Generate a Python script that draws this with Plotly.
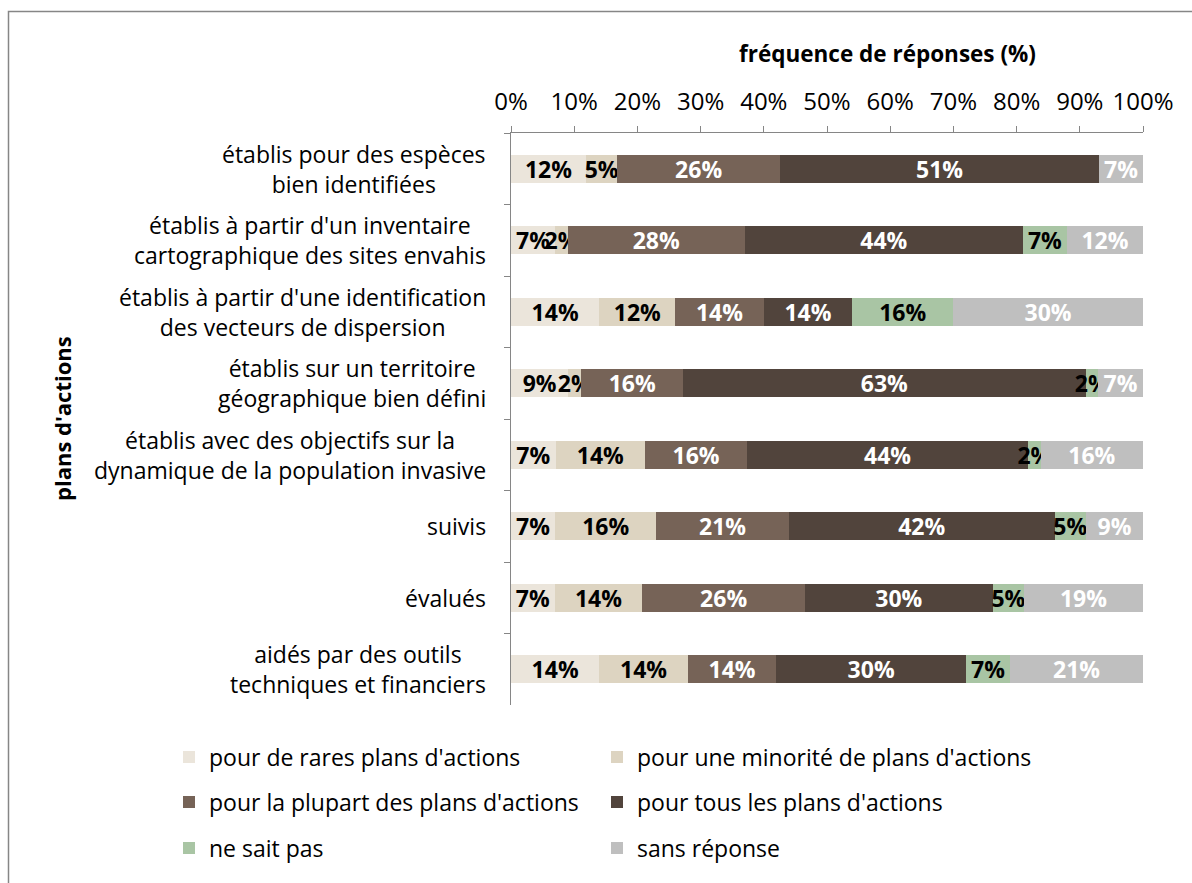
import plotly.graph_objects as go

# Survey questions (y categories), top to bottom
categories = [
    "établis pour des espèces<br>bien identifiées",
    "établis à partir d'un inventaire<br>cartographique des sites envahis",
    "établis à partir d'une identification<br>des vecteurs de dispersion",
    "établis sur un territoire<br>géographique bien défini",
    "établis avec des objectifs sur la<br>dynamique de la population invasive",
    "suivis",
    "évalués",
    "aidés par des outils<br>techniques et financiers",
]

# Response shares (%) per answer option, same order as categories
rares = [12, 7, 14, 9, 7, 7, 7, 14]
minorite = [5, 2, 12, 2, 14, 16, 14, 14]
plupart = [26, 28, 14, 16, 16, 21, 26, 14]
tous = [51, 44, 14, 63, 44, 42, 30, 30]
ne_sait_pas = [0, 7, 16, 2, 2, 5, 5, 7]
sans_reponse = [7, 12, 30, 7, 16, 9, 19, 21]

series_names = [
    "pour de rares plans d'actions",
    "pour une minorité de plans d'actions",
    "pour la plupart des plans d'actions",
    "pour tous les plans d'actions",
    "ne sait pas",
    "sans réponse",
]
series_values = [rares, minorite, plupart, tous, ne_sait_pas, sans_reponse]
colors = ["#EBE5DB", "#DDD4C1", "#766357", "#51443C", "#A9C5A4", "#BFBFBF"]
text_colors = ["#000000", "#000000", "#FFFFFF", "#FFFFFF", "#000000", "#FFFFFF"]

x_ticks = list(range(0, 101, 10))

FONT = "Open Sans, Calibri, sans-serif"
W, H = 1192, 883
L, R, T, B = 511, 49, 133, 178
PW, PH = W - L - R, H - T - B


def px_x(p):
    return (p - L) / PW


def px_y(p):
    return (H - B - p) / PH


# One legend box per entry: two columns, three rows
legend_ids = ["legend", "legend2", "legend3", "legend4", "legend5", "legend6"]
legend_cols = [169, 597]
legend_rows = [757, 802, 848]

fig = go.Figure()
for name, vals, col, tcol, lg in zip(series_names, series_values, colors, text_colors, legend_ids):
    fig.add_trace(go.Bar(
        y=categories,
        x=vals,
        name=name,
        orientation="h",
        marker=dict(color=col, line=dict(width=0)),
        text=[f"{v}%" if v else "" for v in vals],
        textposition="inside",
        insidetextanchor="middle",
        textangle=0,
        textfont=dict(family=FONT, size=23, color=tcol, weight="bold"),
        legend=lg,
        hoverinfo="skip",
    ))

gray = "#868686"
fig.update_layout(
    width=W,
    height=H,
    margin=dict(l=L, r=R, t=T, b=B, pad=0, autoexpand=False),
    barmode="stack",
    barnorm="percent",
    bargap=0.61,
    plot_bgcolor="white",
    paper_bgcolor="white",
    font=dict(family=FONT, size=23, color="#000000"),
    uniformtext=dict(mode="show", minsize=23),
    showlegend=True,
    xaxis=dict(
        side="top",
        range=[0, 100],
        tickvals=x_ticks,
        ticktext=[f"{v}%" for v in x_ticks],
        ticks="outside",
        ticklen=6,
        tickcolor=gray,
        showline=True,
        linecolor=gray,
        linewidth=1,
        showgrid=False,
        zeroline=False,
        ticklabelstandoff=6,
        tickfont=dict(family=FONT, size=24, color="#000000"),
    ),
    yaxis=dict(
        type="category",
        autorange="reversed",
        tickson="boundaries",
        ticks="outside",
        ticklen=6,
        tickcolor=gray,
        showline=True,
        linecolor=gray,
        linewidth=1,
        showgrid=False,
        showticklabels=False,
    ),
)

for i, lg in enumerate(legend_ids):
    fig.update_layout(**{lg: dict(
        orientation="h",
        xref="paper",
        yref="paper",
        x=px_x(legend_cols[i % 2]),
        y=px_y(legend_rows[i // 2]),
        xanchor="left",
        yanchor="middle",
        font=dict(family=FONT, size=23, color="#000000"),
        bgcolor="rgba(0,0,0,0)",
    )})

# Category labels, centred lines, right-aligned block
for c in categories:
    fig.add_annotation(
        x=px_x(488), xref="paper", y=c, yref="y",
        text=c, showarrow=False, xanchor="right", yanchor="middle",
        align="center", font=dict(family=FONT, size=23, color="#000000"),
    )

# Axis titles
fig.add_annotation(
    x=px_x(887), xref="paper", y=px_y(54), yref="paper",
    text="<b>fréquence de réponses (%)</b>", showarrow=False,
    xanchor="center", yanchor="middle",
    font=dict(family=FONT, size=22.5, color="#000000"),
)
fig.add_annotation(
    x=px_x(62), xref="paper", y=px_y(419), yref="paper",
    text="<b>plans d'actions</b>", showarrow=False, textangle=-90,
    xanchor="center", yanchor="middle",
    font=dict(family=FONT, size=22, color="#000000"),
)

# Chart frame
fig.add_shape(
    type="rect", xref="paper", yref="paper",
    x0=px_x(8.5), x1=px_x(1300), y0=px_y(1000), y1=px_y(11.5),
    line=dict(color=gray, width=1.5), fillcolor="rgba(0,0,0,0)", layer="below",
)

fig.write_html("out.html")
